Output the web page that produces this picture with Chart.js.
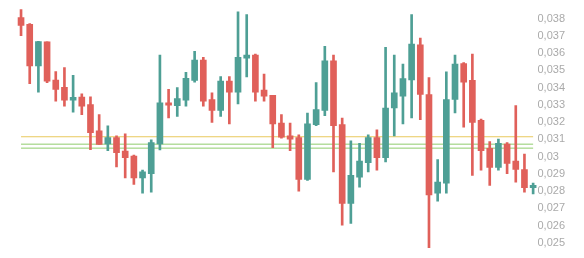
<!DOCTYPE html>
<html>
<head>
<meta charset="utf-8">
<script src="https://cdn.jsdelivr.net/npm/chart.js@4"></script>
<style>
html,body{margin:0;padding:0;background:#fff;}
#wrap{width:584px;height:258px;}
</style>
</head>
<body>
<div id="wrap"><canvas id="c" width="584" height="258"></canvas></div>
<script>
// OHLC values
const opens  = [0.03806,0.03767,0.03526,0.03665,0.03444,0.03401,0.03327,0.03345,0.03302,0.03149,0.03073,0.03110,0.03032,0.03003,0.02876,0.02901,0.03073,0.03312,0.03296,0.03327,0.03442,0.03560,0.03331,0.03268,0.03438,0.03374,0.03571,0.03589,0.03386,0.03355,0.03194,0.03120,0.03110,0.02868,0.03185,0.03268,0.03556,0.03185,0.02729,0.02881,0.02964,0.03110,0.02993,0.03282,0.03350,0.03444,0.03648,0.03360,0.02788,0.02846,0.03331,0.03540,0.03442,0.03210,0.03048,0.02937,0.03073,0.02974,0.02925,0.02819];
const highs  = [0.03853,0.03771,0.03669,0.03665,0.03493,0.03517,0.03472,0.03364,0.03347,0.03243,0.03179,0.03120,0.03132,0.03009,0.02921,0.03097,0.03589,0.03390,0.03400,0.03488,0.03611,0.03576,0.03370,0.03464,0.03464,0.03839,0.03823,0.03595,0.03478,0.03355,0.03243,0.03194,0.03126,0.03253,0.03429,0.03640,0.03589,0.03224,0.03091,0.03077,0.03126,0.03155,0.03634,0.03589,0.03536,0.03823,0.03687,0.03458,0.02983,0.03491,0.03589,0.03546,0.03595,0.03218,0.03087,0.03101,0.03081,0.03296,0.03015,0.02846];
const lows   = [0.03702,0.03423,0.03374,0.03429,0.03321,0.03292,0.03257,0.03243,0.03040,0.03071,0.03034,0.02940,0.02876,0.02839,0.02788,0.02794,0.03038,0.03224,0.03233,0.03292,0.03432,0.03292,0.03198,0.03233,0.03189,0.03306,0.03462,0.03321,0.03321,0.03051,0.03107,0.03034,0.02800,0.02862,0.03179,0.03237,0.02911,0.02602,0.02612,0.02823,0.02911,0.02921,0.02969,0.03120,0.03190,0.03224,0.03214,0.02471,0.02741,0.02788,0.03253,0.03171,0.02891,0.02921,0.02833,0.02921,0.02901,0.02852,0.02794,0.02784];
const closes = [0.03761,0.03526,0.03667,0.03437,0.03390,0.03327,0.03343,0.03292,0.03139,0.03071,0.03110,0.03022,0.02993,0.02876,0.02911,0.03081,0.03312,0.03298,0.03337,0.03454,0.03560,0.03321,0.03268,0.03438,0.03374,0.03576,0.03589,0.03374,0.03350,0.03189,0.03112,0.03101,0.02868,0.03190,0.03272,0.03556,0.03179,0.02729,0.02891,0.02974,0.03110,0.02993,0.03282,0.03370,0.03452,0.03653,0.03360,0.02778,0.02852,0.03331,0.03536,0.03432,0.03198,0.03034,0.02937,0.03077,0.02960,0.02925,0.02819,0.02833];
// horizontal level lines
const levelValues = [0.03115, 0.03072, 0.03049];
const levelColors = ['#e9c95c', '#8fcc6c', '#8fcc6c'];
// y tick labels
const yTickValues = [0.025,0.026,0.027,0.028,0.029,0.030,0.031,0.032,0.033,0.034,0.035,0.036,0.037,0.038];
const yTickLabels = ['0,025','0,026','0,027','0,028','0,029','0,03','0,031','0,032','0,033','0,034','0,035','0,036','0,037','0,038'];

const UP = '#4e9f95', DOWN = '#e0605a';
const labels = opens.map((_, i) => String(i + 1));
const colors = opens.map((o, i) => closes[i] >= o ? UP : DOWN);
const wickData = opens.map((_, i) => [lows[i], highs[i]]);
const bodyData = opens.map((o, i) => [Math.min(o, closes[i]), Math.max(o, closes[i])]);

const levelSets = levelValues.map((v, k) => ({
  type: 'line',
  data: [{x: labels[0], y: v}, {x: labels[labels.length - 1], y: v}],
  borderColor: levelColors[k],
  borderWidth: 1,
  pointRadius: 0,
  fill: false,
  order: 5
}));

new Chart(document.getElementById('c'), {
  type: 'bar',
  data: {
    labels: labels,
    datasets: [
      ...levelSets,
      {data: wickData, backgroundColor: colors, barThickness: 2, grouped: false, order: 2, borderSkipped: false},
      {data: bodyData, backgroundColor: colors, barThickness: 6, grouped: false, order: 1, borderSkipped: false}
    ]
  },
  options: {
    responsive: false,
    animation: false,
    devicePixelRatio: 1,
    layout: {padding: {left: 16.7, right: 19, top: 2, bottom: 1}},
    plugins: {legend: {display: false}, tooltip: {enabled: false}},
    scales: {
      x: {display: false, offset: true, grid: {display: false}},
      y: {
        position: 'right',
        min: 0.0245, max: 0.0387,
        grid: {display: false, drawTicks: false},
        border: {display: false},
        afterBuildTicks: axis => { axis.ticks = yTickValues.map(v => ({value: v})); },
        ticks: {
          padding: 0,
          color: '#aaaaaa',
          font: {family: 'Liberation Sans, Arial, sans-serif', size: 11},
          callback: (v, i) => yTickLabels[i]
        }
      }
    }
  }
});
</script>
</body>
</html>
